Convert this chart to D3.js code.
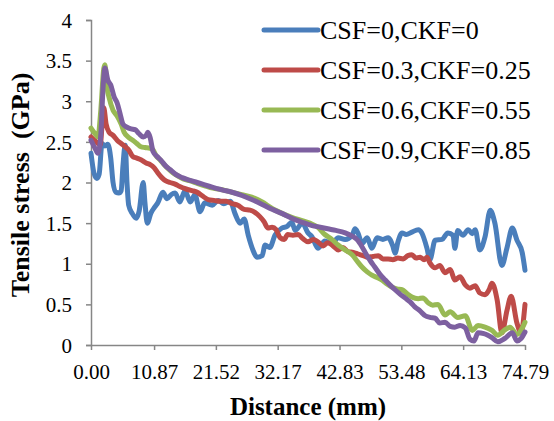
<!DOCTYPE html>
<html>
<head>
<meta charset="utf-8">
<script src="https://cdn.jsdelivr.net/npm/d3@7"></script>
<style>
  body { margin: 0; background: #fff; }
  svg text { font-family: "Liberation Serif", "DejaVu Serif", serif; fill: #000; }
</style>
</head>
<body>
<div id="chart"></div>
<script>
// distance (mm) , tensile stress (GPa)
const blueData = [
  [0, 2.36], [0.5, 2.12], [1.0, 2.05], [1.4, 2.1], [1.9, 2.48], [2.4, 2.45], [2.9, 2.47], [3.4, 2.3],
  [3.8, 2.0], [4.3, 1.88], [4.8, 1.87], [5.2, 1.9], [5.5, 2.2], [5.9, 2.46], [6.2, 2.0], [6.5, 1.72],
  [7.1, 1.62], [7.8, 1.56], [8.3, 1.65], [9.0, 2.0], [9.3, 1.75], [9.7, 1.5], [10.3, 1.62], [11.0, 1.7],
  [11.5, 1.75], [12.4, 1.88], [13.1, 1.8], [13.8, 1.85], [14.5, 1.87], [15.3, 1.76], [16.2, 1.9], [17.1, 1.76],
  [17.9, 1.85], [18.8, 1.64], [19.6, 1.75], [20.9, 1.72], [21.9, 1.78], [22.9, 1.74], [24.0, 1.77], [24.8, 1.62],
  [25.7, 1.5], [26.4, 1.55], [27.1, 1.35], [27.9, 1.17], [28.6, 1.08], [29.5, 1.1], [30.0, 1.23], [30.8, 1.2],
  [31.7, 1.35], [32.9, 1.44], [33.8, 1.46], [34.6, 1.51], [35.2, 1.41], [36.4, 1.5], [37.4, 1.38], [38.1, 1.33],
  [39.1, 1.19], [40.3, 1.28], [41.5, 1.25], [42.6, 1.32], [43.8, 1.3], [45.0, 1.35], [45.5, 1.43], [46.0, 1.38],
  [46.7, 1.25], [47.6, 1.32], [48.4, 1.19], [49.3, 1.32], [50.3, 1.3], [51.2, 1.32], [52.0, 1.22], [52.4, 1.13],
  [52.9, 1.27], [53.6, 1.38], [54.3, 1.36], [55.3, 1.39], [56.4, 1.42], [57.0, 1.38], [57.9, 1.19], [58.4, 1.05],
  [59.3, 1.29], [60.5, 1.3], [61.5, 1.38], [62.4, 1.35], [62.7, 1.19], [63.2, 1.41], [64.1, 1.35], [65.0, 1.42],
  [65.7, 1.37], [66.2, 1.42], [67.0, 1.17], [67.9, 1.33], [68.8, 1.66], [69.6, 1.5], [70.8, 0.98], [71.7, 1.2],
  [72.6, 1.44], [73.4, 1.29], [74.3, 1.14], [74.79, 0.92]
];

const redData = [
  [0, 2.56], [0.9, 2.5], [1.6, 2.46], [1.9, 2.7], [2.2, 2.92], [2.6, 2.72], [3.1, 2.62], [3.8, 2.58],
  [4.5, 2.52], [5.2, 2.48], [5.9, 2.44], [6.5, 2.4], [7.2, 2.32], [7.9, 2.3], [8.6, 2.28], [9.5, 2.24],
  [10.2, 2.22], [10.9, 2.18], [11.5, 2.12], [12.2, 2.06], [12.9, 2.02], [13.6, 2.0], [14.5, 1.98], [15.3, 1.95],
  [16.4, 1.92], [17.4, 1.9], [18.3, 1.88], [19.1, 1.84], [20.2, 1.79], [21.2, 1.78], [22.2, 1.77], [23.3, 1.77],
  [24.3, 1.74], [25.3, 1.72], [26.4, 1.67], [27.4, 1.66], [28.3, 1.63], [29.1, 1.58], [29.8, 1.52], [30.5, 1.44],
  [31.2, 1.45], [31.9, 1.42], [32.6, 1.32], [33.3, 1.3], [33.9, 1.36], [34.8, 1.35], [35.7, 1.36], [36.5, 1.31],
  [37.4, 1.27], [38.3, 1.3], [39.1, 1.27], [40.0, 1.22], [40.8, 1.26], [41.7, 1.22], [42.6, 1.17], [43.4, 1.2],
  [44.3, 1.15], [45.2, 1.14], [46.0, 1.12], [46.9, 1.1], [47.7, 1.08], [48.6, 1.09], [49.5, 1.1], [50.3, 1.06],
  [51.2, 1.06], [52.0, 1.05], [52.9, 1.07], [53.8, 1.06], [54.6, 1.1], [55.3, 1.11], [56.0, 1.07], [56.7, 1.08],
  [57.4, 1.05], [57.9, 1.08], [58.4, 1.01], [59.3, 0.95], [60.1, 0.98], [61.0, 0.89], [61.9, 0.93], [62.7, 0.8],
  [63.6, 0.84], [64.5, 0.74], [65.3, 0.7], [66.2, 0.73], [67.0, 0.64], [67.9, 0.62], [68.6, 0.68], [69.1, 0.76],
  [70.0, 0.55], [70.8, 0.15], [71.7, 0.43], [72.4, 0.6], [73.4, 0.27], [74.1, 0.15], [74.79, 0.5]
];

const greenData = [
  [0, 2.67], [0.7, 2.6], [1.2, 2.56], [1.7, 2.9], [2.2, 3.4], [2.4, 3.45], [2.8, 3.15], [3.1, 3.05],
  [3.8, 2.89], [4.5, 2.82], [5.2, 2.72], [5.7, 2.62], [6.4, 2.56], [7.2, 2.52], [7.9, 2.48], [8.6, 2.44],
  [9.3, 2.43], [10.2, 2.42], [10.7, 2.4], [11.2, 2.33], [11.9, 2.28], [12.6, 2.22], [13.3, 2.17], [14.1, 2.12],
  [15.0, 2.08], [16.0, 2.04], [17.1, 2.02], [18.3, 1.99], [19.6, 1.96], [21.0, 1.93], [22.6, 1.91], [24.3, 1.88],
  [26.0, 1.85], [27.7, 1.82], [29.5, 1.76], [31.2, 1.68], [32.9, 1.62], [34.6, 1.57], [36.4, 1.53], [37.7, 1.5],
  [39.1, 1.45], [40.3, 1.36], [41.5, 1.3], [42.6, 1.23], [43.8, 1.17], [45.0, 1.11], [46.0, 1.02], [46.7, 0.96],
  [47.6, 0.9], [48.4, 0.86], [49.3, 0.83], [50.1, 0.8], [51.0, 0.75], [51.9, 0.71], [52.7, 0.69], [53.6, 0.68],
  [54.5, 0.63], [55.3, 0.59], [56.4, 0.57], [57.2, 0.58], [58.1, 0.52], [58.9, 0.49], [59.8, 0.5], [61.0, 0.37],
  [61.9, 0.41], [63.2, 0.34], [64.5, 0.36], [65.7, 0.18], [66.7, 0.24], [67.9, 0.22], [69.1, 0.18], [70.1, 0.12],
  [71.2, 0.18], [72.2, 0.22], [73.4, 0.13], [74.1, 0.18], [74.79, 0.28]
];

const purpleData = [
  [0, 2.52], [0.7, 2.42], [1.2, 2.36], [1.7, 2.6], [2.1, 3.2], [2.4, 3.41], [2.9, 3.26], [3.4, 3.2],
  [4.0, 3.05], [4.5, 2.98], [5.0, 2.85], [5.5, 2.72], [6.2, 2.68], [6.9, 2.66], [7.6, 2.65], [8.3, 2.6],
  [9.0, 2.56], [9.5, 2.58], [9.8, 2.62], [10.2, 2.55], [10.7, 2.38], [11.4, 2.32], [12.1, 2.27], [12.8, 2.21],
  [13.6, 2.16], [14.6, 2.1], [15.7, 2.06], [16.9, 2.03], [18.3, 2.0], [19.6, 1.97], [21.0, 1.94], [22.6, 1.91],
  [24.3, 1.88], [26.0, 1.84], [27.7, 1.79], [29.5, 1.73], [31.2, 1.67], [32.9, 1.62], [34.6, 1.56], [36.4, 1.51],
  [38.1, 1.47], [39.5, 1.45], [40.8, 1.43], [42.2, 1.41], [43.8, 1.38], [45.0, 1.34], [45.8, 1.3], [46.7, 1.21],
  [47.4, 1.12], [48.1, 1.04], [48.9, 0.96], [49.8, 0.87], [50.7, 0.8], [51.5, 0.74], [52.4, 0.68], [53.2, 0.63],
  [54.1, 0.58], [55.0, 0.53], [55.8, 0.47], [56.7, 0.42], [57.6, 0.36], [58.4, 0.34], [59.3, 0.33], [60.1, 0.27],
  [61.0, 0.28], [61.9, 0.23], [62.7, 0.22], [63.6, 0.24], [64.5, 0.21], [65.3, 0.07], [66.0, 0.05], [66.7, 0.15],
  [67.7, 0.14], [68.4, 0.12], [69.1, 0.09], [70.1, 0.04], [71.3, 0.08], [72.6, 0.15], [73.4, 0.05], [74.1, 0.08],
  [74.79, 0.16]
];

const seriesNames = ['CSF=0,CKF=0', 'CSF=0.3,CKF=0.25', 'CSF=0.6,CKF=0.55', 'CSF=0.9,CKF=0.85'];
const seriesColors = ['#4a7ebb', '#be4b48', '#98b954', '#7d60a0'];
const xTicks = [0, 10.87, 21.52, 32.17, 42.83, 53.48, 64.13, 74.79];
const yTicks = [0, 0.5, 1, 1.5, 2, 2.5, 3, 3.5, 4];

const serif = '"Liberation Serif", "DejaVu Serif", serif';
const width = 554, height = 421;
const margin = {left: 91, right: 29, top: 20, bottom: 76};

const svg = d3.select('#chart')
  .append('svg')
  .attr('width', width)
  .attr('height', height);

const x = d3.scaleLinear().domain([0, 74.79]).range([margin.left, width - margin.right]);
const y = d3.scaleLinear().domain([0, 4]).range([height - margin.bottom, margin.top]);

const axisColor = '#868686';

// y axis
const yAxis = svg.append('g')
  .attr('transform', `translate(${margin.left},0)`)
  .call(d3.axisLeft(y).tickValues(yTicks).tickSize(5).tickPadding(14).tickFormat(d3.format('')));
yAxis.select('.domain').attr('stroke', axisColor).attr('stroke-width', 1.5);
yAxis.selectAll('.tick line').attr('stroke', axisColor).attr('stroke-width', 1.5);
yAxis.selectAll('.tick text')
  .attr('font-family', serif)
  .attr('font-size', 21)
  .attr('fill', '#000')
  .attr('dy', '0.34em');

// x axis
const xAxis = svg.append('g')
  .attr('transform', `translate(0,${y(0)})`)
  .call(d3.axisBottom(x).tickValues(xTicks).tickSize(5).tickSizeOuter(0).tickPadding(14)
    .tickFormat(d => d.toFixed(2)));
xAxis.select('.domain').attr('stroke', axisColor).attr('stroke-width', 1.5);
xAxis.selectAll('.tick line').attr('stroke', axisColor).attr('stroke-width', 1.5);
xAxis.selectAll('.tick text')
  .attr('font-family', serif)
  .attr('font-size', 21)
  .attr('fill', '#000');

// lines
const line = d3.line()
  .x(d => x(d[0]))
  .y(d => y(d[1]))
  .curve(d3.curveMonotoneX);

const allSeries = [blueData, redData, greenData, purpleData];

svg.append('g')
  .selectAll('path')
  .data(allSeries)
  .enter()
  .append('path')
  .attr('d', line)
  .attr('fill', 'none')
  .attr('stroke', (d, i) => seriesColors[i])
  .attr('stroke-width', 5)
  .attr('stroke-linejoin', 'round')
  .attr('stroke-linecap', 'round');

// legend
const legend = svg.append('g').attr('transform', 'translate(262,30)');
const item = legend.selectAll('g')
  .data(seriesNames)
  .enter()
  .append('g')
  .attr('transform', (d, i) => `translate(0,${i * 40})`);
item.append('line')
  .attr('x1', 2).attr('x2', 56)
  .attr('y1', 0).attr('y2', 0)
  .attr('stroke', (d, i) => seriesColors[i])
  .attr('stroke-width', 5)
  .attr('stroke-linecap', 'round');
item.append('text')
  .attr('x', 58)
  .attr('y', 9)
  .attr('font-family', serif)
  .attr('font-size', 26)
  .text(d => d);

// axis titles
svg.append('text')
  .attr('x', 308)
  .attr('y', 415)
  .attr('text-anchor', 'middle')
  .attr('font-family', serif)
  .attr('font-size', 25)
  .attr('font-weight', 'bold')
  .text('Distance (mm)');

svg.append('text')
  .attr('transform', 'translate(29,185) rotate(-90)')
  .attr('text-anchor', 'middle')
  .attr('xml:space', 'preserve')
  .style('white-space', 'pre')
  .attr('font-family', serif)
  .attr('font-size', 26)
  .attr('font-weight', 'bold')
  .text('Tensile stress  (GPa)');
</script>
</body>
</html>
